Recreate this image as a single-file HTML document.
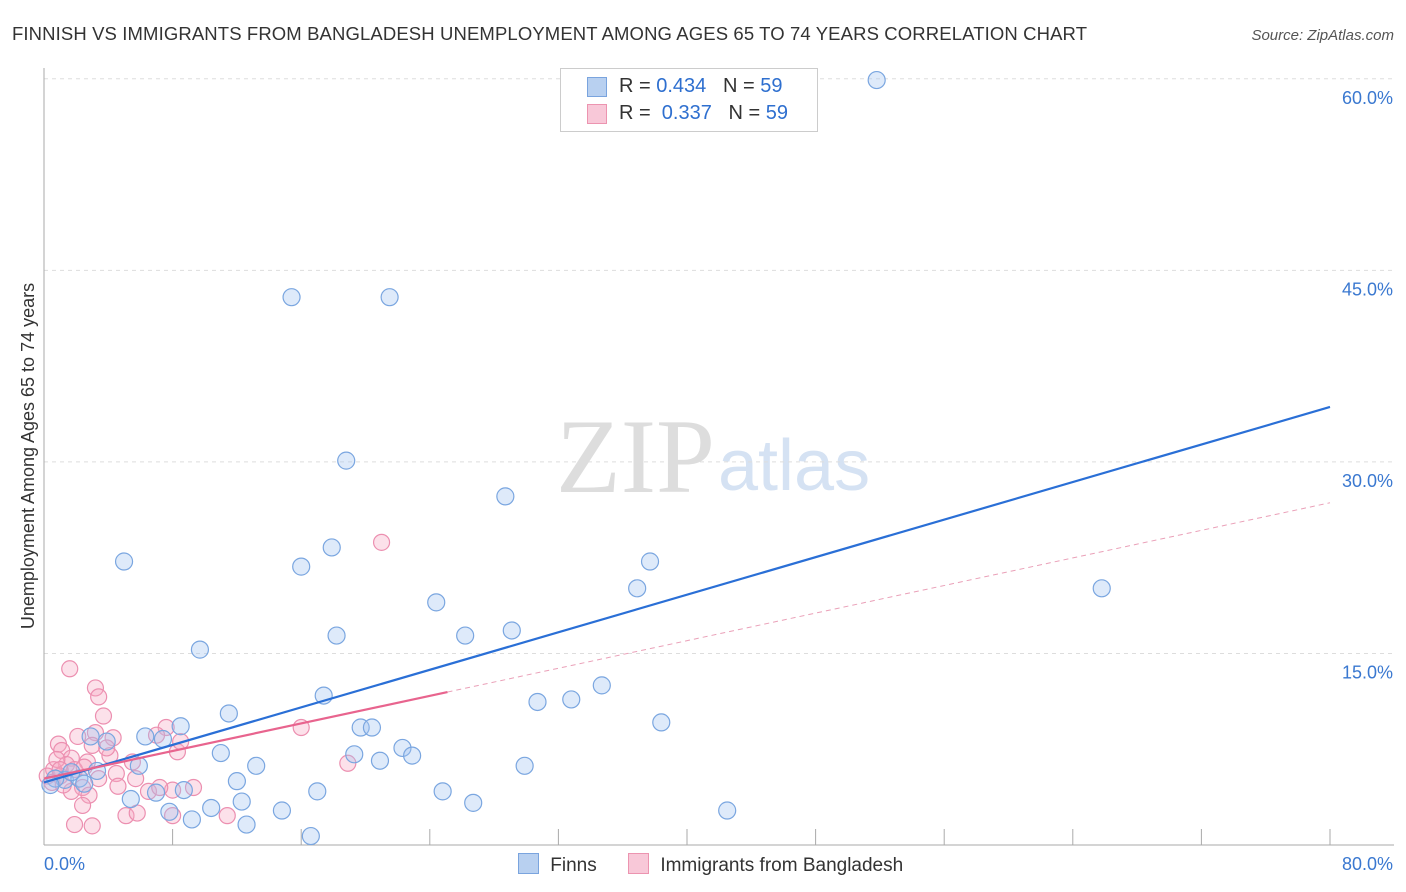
<!DOCTYPE html>
<html><head><meta charset="utf-8">
<style>
body{margin:0;background:#fff;font-family:"Liberation Sans",sans-serif;}
#wrap{position:relative;width:1406px;height:892px;overflow:hidden;}
</style></head>
<body>
<div id="wrap">
<svg id="chart" width="1406" height="892" xmlns="http://www.w3.org/2000/svg">
<text x="12" y="40" font-size="18.5" fill="#333" textLength="1075">FINNISH VS IMMIGRANTS FROM BANGLADESH UNEMPLOYMENT AMONG AGES 65 TO 74 YEARS CORRELATION CHART</text>
<text x="1394" y="40" font-size="15" fill="#555" font-style="italic" text-anchor="end">Source: ZipAtlas.com</text>
<text x="715" y="492" font-size="106" fill="#ddd" text-anchor="end" font-family="Liberation Serif,serif">ZIP</text>
<text x="718" y="490" font-size="72" fill="#d5e2f3">atlas</text>
<text transform="translate(34,456) rotate(-90)" font-size="18" fill="#333" text-anchor="middle">Unemployment Among Ages 65 to 74 years</text>
<g id="grid"></g><g id="pts"></g><g id="lines"></g>
</svg>
<div style="position:absolute;left:560px;top:68px;width:256px;height:62px;border:1px solid #ccc;background:#fff;font-size:20px;color:#333">
 <div style="position:absolute;left:26px;top:8px;width:18px;height:18px;background:#b8d0f0;border:1px solid #7aa4de"></div>
 <div style="position:absolute;left:58px;top:6px">R = <span style="color:#2e6fcf">0.434</span>&nbsp;&nbsp;&nbsp;N = <span style="color:#2e6fcf">59</span></div>
 <div style="position:absolute;left:26px;top:35px;width:18px;height:18px;background:#f8c8d8;border:1px solid #ec94b0"></div>
 <div style="position:absolute;left:58px;top:33px">R = &nbsp;<span style="color:#2e6fcf">0.337</span>&nbsp;&nbsp;&nbsp;N = <span style="color:#2e6fcf">59</span></div>
</div>
<div style="position:absolute;left:518px;top:853px;font-size:19px;color:#333;white-space:nowrap">
 <span style="display:inline-block;width:19px;height:19px;background:#b8d0f0;border:1px solid #7aa4de;vertical-align:-3px"></span>
 <span style="margin-left:6px">Finns</span>
 <span style="display:inline-block;width:19px;height:19px;background:#f8c8d8;border:1px solid #ec94b0;vertical-align:-3px;margin-left:26px"></span>
 <span style="margin-left:6px">Immigrants from Bangladesh</span>
</div>
</div>
<script>
const yTicks=[15,30,45,60];
const yTickLabels=["15.0%","30.0%","45.0%","60.0%"];
const xTicks=[8,16,24,32,40,48,56,64,72,80];
const finnsX=[51.8,15.4,21.5,18.8,28.7,4.98,16.0,17.9,37.7,36.9,65.8,24.4,26.2,29.1,18.2,9.7,34.7,17.4,30.7,32.8,38.4,11.5,8.5,19.7,20.4,22.3,22.9,19.3,20.9,11.0,6.3,7.4,2.9,3.9,5.9,13.2,29.9,12.0,17.0,6.97,8.7,5.4,12.3,24.8,26.7,10.4,14.8,7.8,9.2,12.6,16.6,42.5,3.3,1.3,2.2,0.7,1.7,0.4,2.5];
const finnsY=[59.9,42.9,42.9,30.1,27.3,22.2,21.8,23.3,22.2,20.1,20.1,19.0,16.4,16.8,16.4,15.3,12.5,11.7,11.2,11.4,9.6,10.3,9.3,9.2,9.2,7.6,7.0,7.1,6.6,7.2,8.5,8.3,8.5,8.1,6.2,6.2,6.2,5.0,4.2,4.1,4.3,3.6,3.4,4.2,3.3,2.9,2.7,2.6,2.0,1.6,0.7,2.7,5.8,5.1,5.2,5.2,5.7,4.7,4.8];
const bangX=[1.6,3.2,3.4,3.7,21.0,16.0,7.6,3.2,2.1,4.3,0.9,1.1,4.1,8.3,7.0,1.7,2.7,1.4,0.6,0.2,1.0,1.9,2.5,4.5,5.7,3.4,18.9,2.4,1.7,2.8,4.6,8.0,9.3,6.5,2.4,5.1,5.8,8.0,11.4,1.9,3.0,0.5,1.2,0.8,3.9,3.0,5.5,7.2,8.5,1.0];
const bangY=[13.8,12.3,11.6,10.1,23.7,9.2,9.2,8.8,8.5,8.4,7.9,7.4,7.0,7.3,8.6,6.8,6.5,6.3,5.9,5.4,5.4,5.9,6.1,5.6,5.2,5.2,6.4,4.5,4.2,3.9,4.6,4.3,4.5,4.2,3.1,2.3,2.5,2.3,2.3,1.6,1.5,4.9,4.7,6.7,7.6,7.8,6.5,4.5,8.1,5.9];
const finnsFit=[4.9,0.3675];
const bangFit=[5.2,0.27];
const bangSolidEnd=25.1;

const NS="http://www.w3.org/2000/svg";
const X=v=>44+v*16.075, Y=v=>845-v*12.77;
function mk(tag,attrs,parent){const e=document.createElementNS(NS,tag);for(const k in attrs)e.setAttribute(k,attrs[k]);parent.appendChild(e);return e;}
const grid=document.getElementById('grid'),pts=document.getElementById('pts'),lines=document.getElementById('lines');
yTicks.forEach((t,i)=>{
 const l=mk('line',{x1:44,x2:1394,y1:Y(t),y2:Y(t),stroke:'#ddd','stroke-dasharray':'4,4'},grid);
 
 
 const tx=mk('text',{x:1393,y:Y(t)+25,'font-size':18,fill:'#3a78d0','text-anchor':'end'},grid);
 tx.textContent=yTickLabels[i];
 
 
});
const ax=mk('line',{x1:44,x2:44,y1:68,y2:845,stroke:'#aaa'},grid);


const bx=mk('line',{x1:44,x2:1394,y1:845,y2:845,stroke:'#aaa'},grid);


xTicks.forEach(t=>{
 const l=mk('line',{x1:X(t),x2:X(t),y1:829,y2:845,stroke:'#aaa'},grid);
 
 
});
const x0=mk('text',{x:44,y:870,'font-size':18,fill:'#3a78d0'},grid);x0.textContent='0.0%';


const x1=mk('text',{x:1393,y:870,'font-size':18,fill:'#3a78d0','text-anchor':'end'},grid);x1.textContent='80.0%';


bangX.forEach((v,i)=>{
 const c=mk('circle',{cx:X(v),cy:Y(bangY[i]),r:8,fill:'rgba(246,170,195,0.35)',stroke:'#ec8fb0','stroke-width':1.2},pts);
 
 
});
finnsX.forEach((v,i)=>{
 const c=mk('circle',{cx:X(v),cy:Y(finnsY[i]),r:8.5,fill:'rgba(160,195,240,0.35)',stroke:'#7aa6e0','stroke-width':1.2},pts);
 
 
});
const fl=mk('line',{x1:X(0),y1:Y(finnsFit[0]),x2:X(80),y2:Y(finnsFit[0]+80*finnsFit[1]),stroke:'#2a6fd6','stroke-width':2.2},lines);


const bl=mk('line',{x1:X(0),y1:Y(bangFit[0]),x2:X(bangSolidEnd),y2:Y(bangFit[0]+bangSolidEnd*bangFit[1]),stroke:'#e8648e','stroke-width':2.2},lines);


const bd=mk('line',{x1:X(bangSolidEnd),y1:Y(bangFit[0]+bangSolidEnd*bangFit[1]),x2:X(80),y2:Y(bangFit[0]+80*bangFit[1]),stroke:'#eaa0b8','stroke-width':1,'stroke-dasharray':'5,4'},lines);


</script>
</body></html>
